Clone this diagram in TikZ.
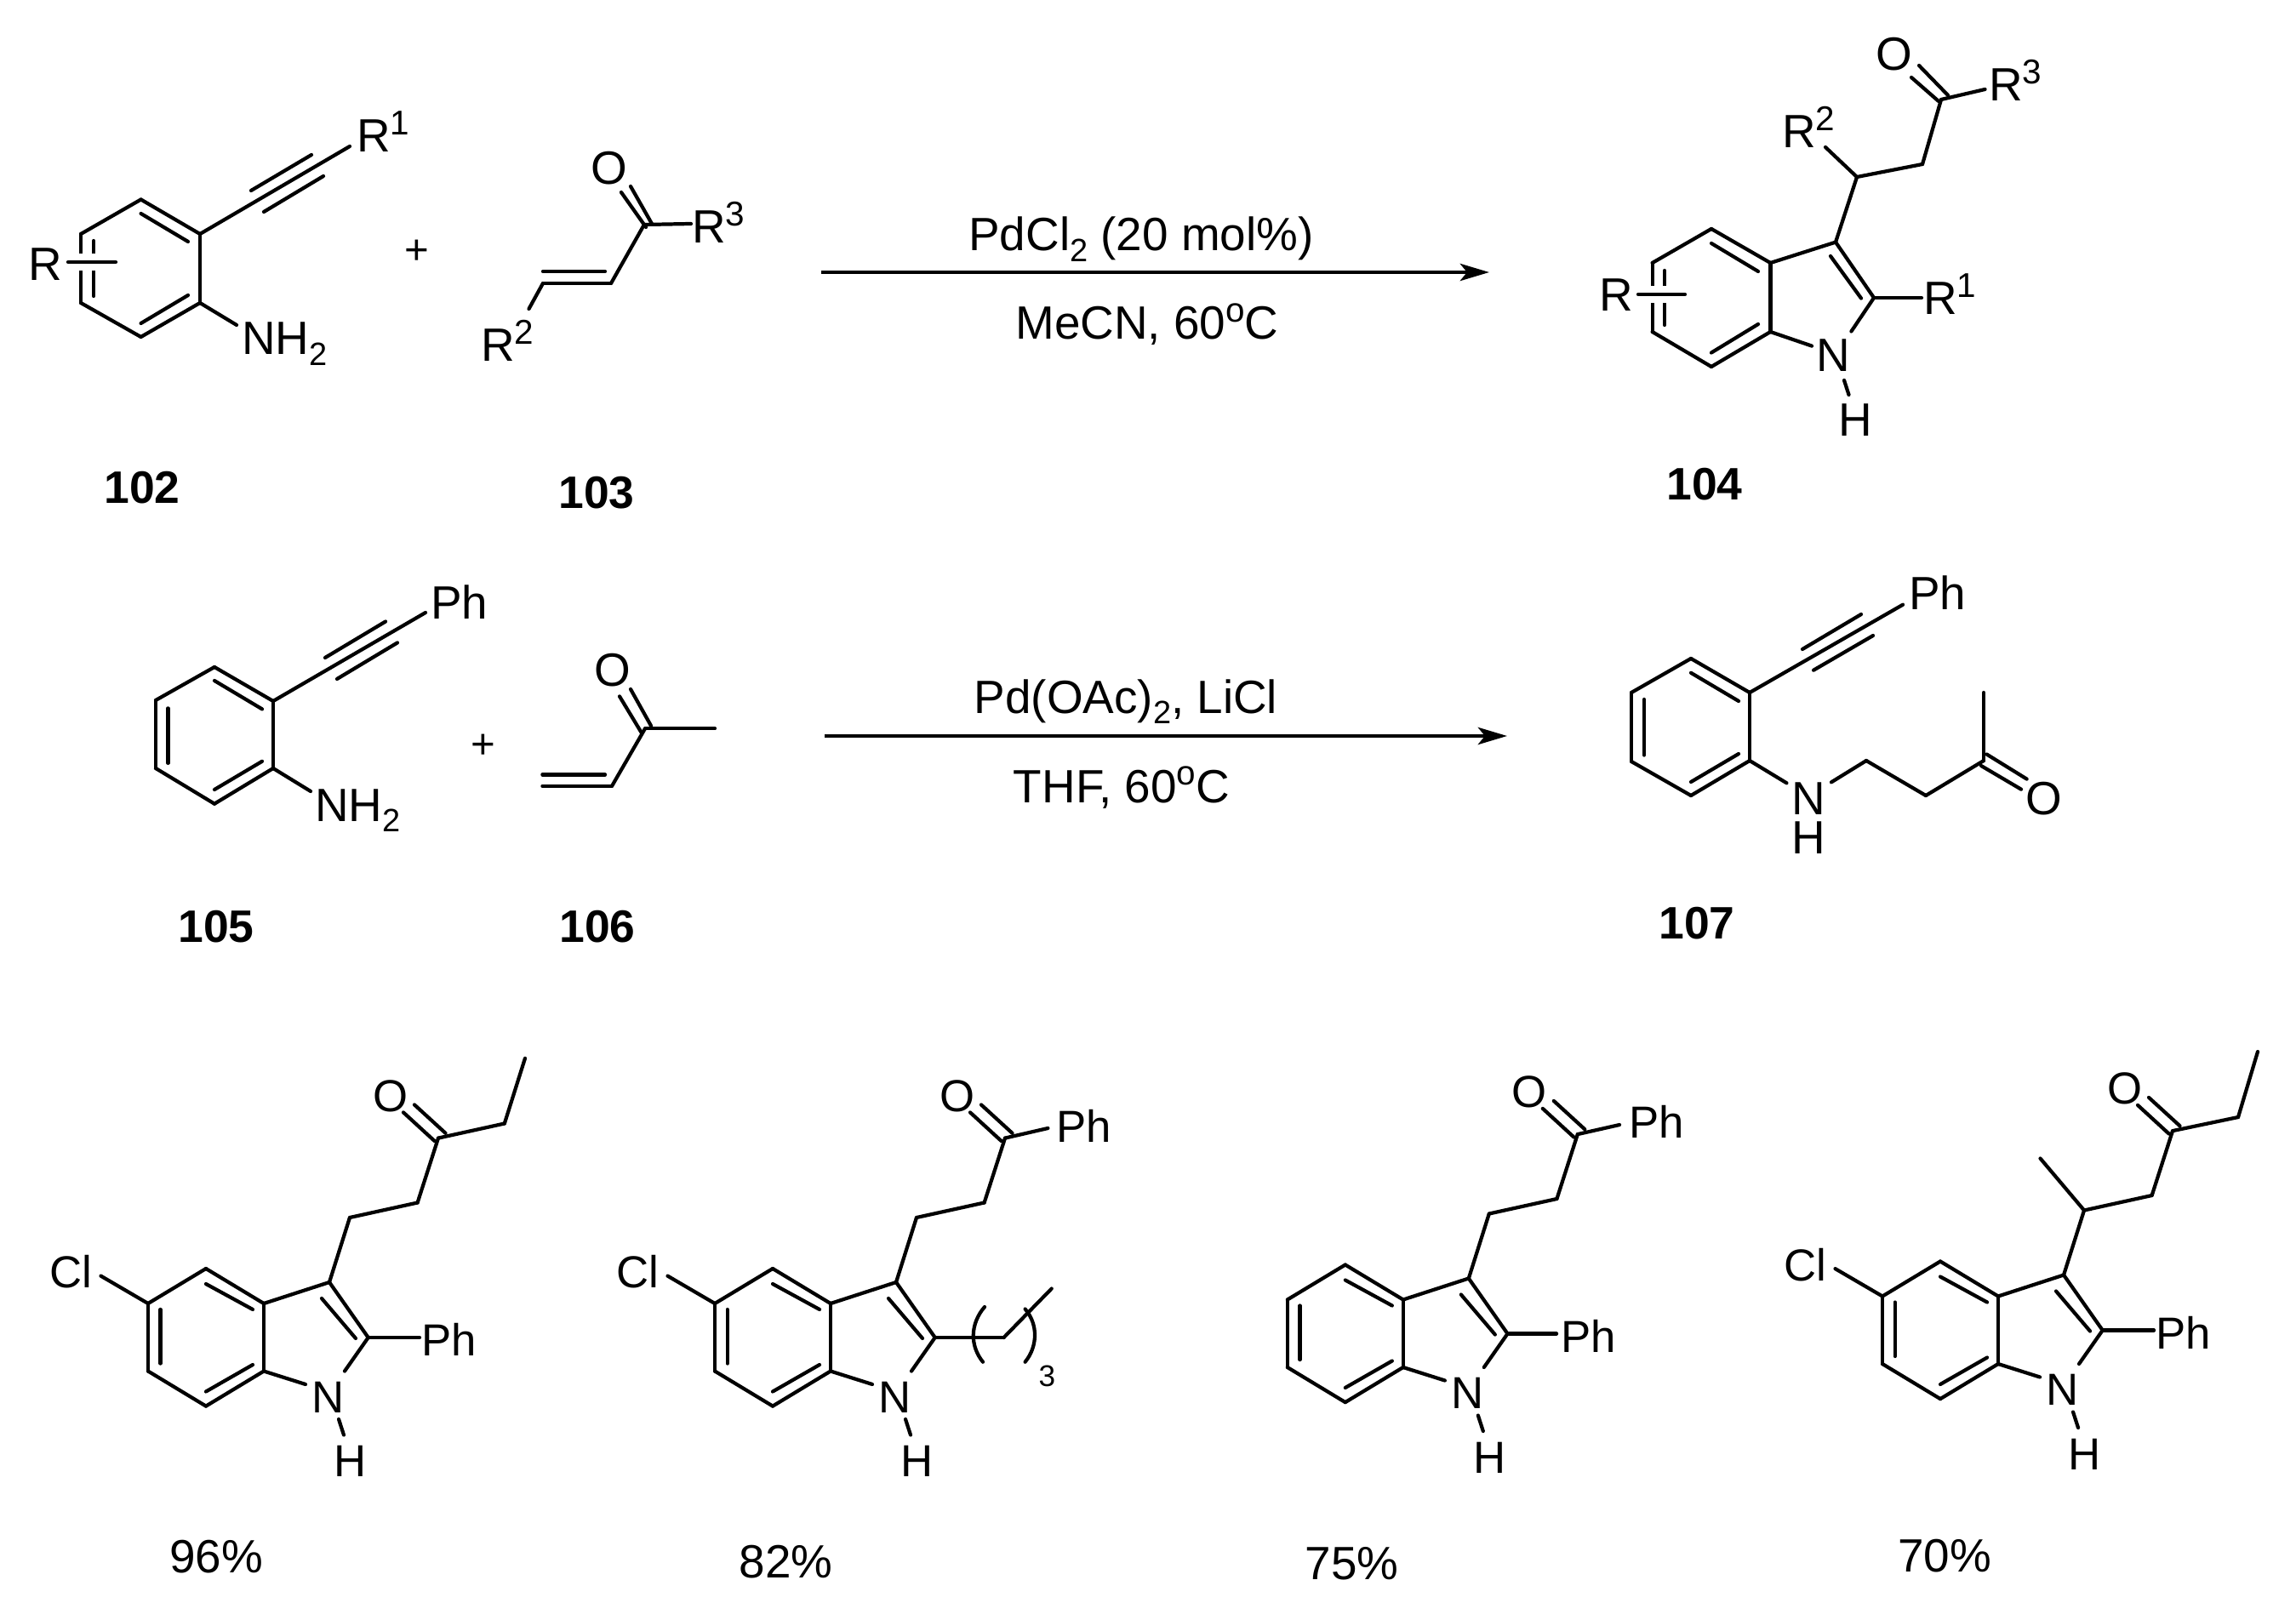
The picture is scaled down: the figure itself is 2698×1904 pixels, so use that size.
\documentclass[tikz,border=0pt]{standalone}
\usepackage{fontspec}
\setmainfont{Liberation Sans}
\usetikzlibrary{positioning}
\usetikzlibrary{arrows.meta}

\newcommand{\upidx}[1]{\raisebox{5.7pt}{\fontsize{11.5}{12}\selectfont #1}}
\newcommand{\downidx}[1]{\raisebox{-3.6pt}{\fontsize{10.8}{12}\selectfont #1}}

\begin{document}
\begin{tikzpicture}[
  x=0.01cm,y=-0.01cm,
  line width=1.2pt,line cap=round,
  font=\fontsize{15.6}{18}\selectfont,
  atom/.style={inner sep=0pt,anchor=base},
  lbl/.style={inner sep=0pt,anchor=base west},
  small/.style={font=\fontsize{15}{18}\selectfont},
  cmpd/.style={inner sep=0pt,anchor=base,font=\fontsize{15.2}{18}\selectfont\bfseries},
  plus/.style={inner sep=0pt,font=\fontsize{14}{16}\selectfont},
  halo/.style={draw=white,line width=5.5pt,line cap=butt},
  rxnarrow/.style={line width=1.4pt,line cap=butt,-{Stealth[length=9.7pt,width=5.7pt,inset=2.3pt]}}
]
\useasboundingbox (0,0) rectangle (2698,1904);

% 102
\path (165.6,234.5) coordinate (p1) (235,275) coordinate (p2) (235,356) coordinate (p3)
  (165.6,396) coordinate (p4) (95,356) coordinate (p5) (95,275) coordinate (p6)
  (165.6,251) coordinate (p7) (221,284) coordinate (p8) (221,347) coordinate (p9)
  (165.6,380) coordinate (p10) (110,283) coordinate (p11) (110,348) coordinate (p12)
  (80,308) coordinate (p13) (136,308) coordinate (p14) (411,172) coordinate (p15)
  (295,224) coordinate (p16) (366,182) coordinate (p17) (310,249) coordinate (p18)
  (380,207) coordinate (p19) (278,382) coordinate (p20);
\path (p1) edge (p2) (p2) edge (p3) (p3) edge (p4) (p4) edge (p5) (p5) edge (p6) (p6) edge (p1)
  (p7) edge (p8) (p9) edge (p10) (p11) edge (p12)
  (p2) edge (p15) (p16) edge (p17) (p18) edge (p19) (p3) edge (p20);
\path (p13) edge[halo] (p14);
\path (p13) edge (p14);
\node[lbl] (pR) at (31,330) {R};
\node[lbl] (pR1) at (417,179) {R\upidx{1}};
\node[lbl] (pN) at (282,417) {NH\downidx{2}};
\node[plus] (plusa) at (490,296) {+};
\node[cmpd] (c102) at (167,592) {102};

% 103
\path (757,264) coordinate (q1) (718,333) coordinate (q2) (638,333) coordinate (q3)
  (638,319) coordinate (q4) (711,319) coordinate (q5) (621.5,363) coordinate (q6)
  (812,263) coordinate (q7) (730,226) coordinate (q8) (759,267) coordinate (q9)
  (741,219) coordinate (q10) (766,263) coordinate (q11);
\path (q1) edge (q2) (q2) edge (q3) (q4) edge (q5) (q3) edge (q6) (q1) edge (q7)
  (q8) edge (q9) (q10) edge (q11);
\node[atom] (qO) at (715.5,216.6) {O};
\node[lbl] (qR2) at (563,425) {R\upidx{2}};
\node[lbl] (qR3) at (811,286) {R\upidx{3}};
\node[cmpd] (c103) at (701,597.4) {103};

% first arrow
\coordinate (s1) at (965,320);
\coordinate (e1) at (1750,320);
\draw[rxnarrow] (s1) -- (e1);
\node[atom] (t1) at (1341,294.5) {PdCl\downidx{2} (20 mol\%)};
\node[atom] (t2) at (1348,399) {MeCN, 60\upidx{o}C};

% 104
\path (2011,269) coordinate (r1) (2080.4,309) coordinate (r2) (2080.4,390) coordinate (r3)
  (2011,431) coordinate (r4) (1941.6,390) coordinate (r5) (1941.6,309) coordinate (r6)
  (2011,286) coordinate (r7) (2066,319) coordinate (r8) (2066,381) coordinate (r9)
  (2011,414.5) coordinate (r10) (1956,318) coordinate (r11) (1956,382) coordinate (r12)
  (1925,346) coordinate (r13) (1980,346) coordinate (r14) (2157,284.6) coordinate (r15)
  (2202,350) coordinate (r16) (2175.4,389.5) coordinate (r17) (2129,406.6) coordinate (r18)
  (2167,447) coordinate (r19) (2172.5,464) coordinate (r20) (2151,301) coordinate (r21)
  (2187,350.6) coordinate (r22) (2258,350) coordinate (r23) (2182,208) coordinate (r24)
  (2145,173) coordinate (r25) (2259,193) coordinate (r26) (2281,117) coordinate (r27)
  (2246,91) coordinate (r28) (2278,119) coordinate (r29) (2255,77) coordinate (r30)
  (2289,112) coordinate (r31) (2332.5,105) coordinate (r32);
\path (r1) edge (r2) (r2) edge (r3) (r3) edge (r4) (r4) edge (r5) (r5) edge (r6) (r6) edge (r1)
  (r7) edge (r8) (r9) edge (r10) (r11) edge (r12)
  (r2) edge (r15) (r15) edge (r16) (r16) edge (r17) (r3) edge (r18) (r19) edge (r20)
  (r21) edge (r22) (r16) edge (r23) (r15) edge (r24) (r24) edge (r25) (r24) edge (r26)
  (r26) edge (r27) (r28) edge (r29) (r30) edge (r31) (r27) edge (r32);
\path (r13) edge[halo] (r14);
\path (r13) edge (r14);
\node[lbl] (rR) at (1877,366) {R};
\node[lbl] (rR1) at (2258,370) {R\upidx{1}};
\node[lbl] (rR2) at (2092,174) {R\upidx{2}};
\node[lbl] (rR3) at (2335,119) {R\upidx{3}};
\node[atom] (rO) at (2226,82.7) {O};
\node[atom] (rN) at (2154,437) {N};
\node[atom] (rH) at (2180,513) {H};
\node[cmpd] (c104) at (2003,588) {104};

% 105
\path (252,784) coordinate (u1) (321,824) coordinate (u2) (321,903) coordinate (u3)
  (252,944.7) coordinate (u4) (183,903) coordinate (u5) (183,823) coordinate (u6)
  (252,800) coordinate (u7) (308,833.4) coordinate (u8) (308,894.8) coordinate (u9)
  (252,928) coordinate (u10) (197.4,832.4) coordinate (u11) (197.4,896.9) coordinate (u12)
  (500,720) coordinate (u13) (382,773) coordinate (u14) (453,730.5) coordinate (u15)
  (396,798) coordinate (u16) (467,755.4) coordinate (u17) (365,930) coordinate (u18);
\path (u1) edge (u2) (u2) edge (u3) (u3) edge (u4) (u4) edge (u5) (u5) edge (u6) (u6) edge (u1)
  (u7) edge (u8) (u9) edge (u10) (u11) edge (u12)
  (u2) edge (u13) (u14) edge (u15) (u16) edge (u17) (u3) edge (u18);
\node[lbl] (uPh) at (504,727.4) {Ph};
\node[lbl] (uN) at (368,965) {NH\downidx{2}};
\node[plus] (plusb) at (568,877) {+};
\node[cmpd] (c105) at (254,1107) {105};

% 106
\path (758,856.3) coordinate (v1) (719,923.9) coordinate (v2) (637.4,923.9) coordinate (v3)
  (637.4,910.4) coordinate (v4) (711,910.4) coordinate (v5) (728,818.4) coordinate (v6)
  (754,861.5) coordinate (v7) (741,810) coordinate (v8) (765,853) coordinate (v9)
  (840,856.3) coordinate (v10);
\path (v1) edge (v2) (v2) edge (v3) (v4) edge (v5) (v6) edge (v7) (v8) edge (v9) (v1) edge (v10);
\node[atom] (vO) at (719.5,806.4) {O};
\node[cmpd] (c106) at (702,1107) {106};

% second arrow
\coordinate (s2) at (969,865);
\coordinate (e2) at (1771,865);
\draw[rxnarrow] (s2) -- (e2);
\node[atom] (t3) at (1323,838) {Pd(OAc)\downidx{2}, LiCl};
\node[atom] (t4) at (1318,943) {THF, 60\upidx{o}C};

% 107
\path (1987,774) coordinate (w1) (2056,814) coordinate (w2) (2056,894) coordinate (w3)
  (1987,935) coordinate (w4) (1917,895) coordinate (w5) (1917,814) coordinate (w6)
  (1987,790.8) coordinate (w7) (2043,824) coordinate (w8) (2043,886) coordinate (w9)
  (1987,919) coordinate (w10) (1932,822) coordinate (w11) (1932,887.5) coordinate (w12)
  (2236,710.7) coordinate (w13) (2118,763) coordinate (w14) (2187,722) coordinate (w15)
  (2131,787.7) coordinate (w16) (2201,747) coordinate (w17) (2099.4,920.3) coordinate (w18)
  (2152,919.3) coordinate (w19) (2193,894) coordinate (w20) (2263,935) coordinate (w21)
  (2331,894) coordinate (w22) (2331,814) coordinate (w23) (2334.5,886.5) coordinate (w24)
  (2381.6,915.6) coordinate (w25) (2328,900) coordinate (w26) (2375,927.7) coordinate (w27);
\path (w1) edge (w2) (w2) edge (w3) (w3) edge (w4) (w4) edge (w5) (w5) edge (w6) (w6) edge (w1)
  (w7) edge (w8) (w9) edge (w10) (w11) edge (w12)
  (w2) edge (w13) (w14) edge (w15) (w16) edge (w17) (w3) edge (w18)
  (w19) edge (w20) (w20) edge (w21) (w21) edge (w22) (w22) edge (w23)
  (w24) edge (w25) (w26) edge (w27);
\node[lbl] (wPh) at (2241,716) {Ph};
\node[atom] (wN) at (2125.5,957) {N};
\node[atom] (wH) at (2125.5,1003) {H};
\node[atom] (wO) at (2402,957) {O};
\node[cmpd] (c107) at (1994,1103.5) {107};

% the four indoles of the bottom row
\foreach \nm/\dx/\dy in {a/0/0,b/666/0,c/1338.8/-4.5,d/2038/-8.5}{
\begin{scope}[shift={(\dx,\dy)}]
\path (242,1491) coordinate (\nm1) (310,1532) coordinate (\nm2) (310,1611.5) coordinate (\nm3)
  (242,1652.6) coordinate (\nm4) (174,1611.5) coordinate (\nm5) (174,1532) coordinate (\nm6)
  (242,1509) coordinate (\nm7) (297,1539) coordinate (\nm8) (297,1604) coordinate (\nm9)
  (242,1635.5) coordinate (\nm10) (188.6,1539) coordinate (\nm11) (188.6,1602.5) coordinate (\nm12)
  (387,1507) coordinate (\nm13) (432.7,1572) coordinate (\nm14) (405,1611.5) coordinate (\nm15)
  (359,1627) coordinate (\nm16) (398,1668) coordinate (\nm17) (404,1686.5) coordinate (\nm18)
  (378,1526) coordinate (\nm19) (418,1573) coordinate (\nm20) (411,1431) coordinate (\nm21)
  (490.6,1413.5) coordinate (\nm22) (515,1337.6) coordinate (\nm23) (474,1307.4) coordinate (\nm24)
  (510.6,1341) coordinate (\nm25) (487,1298.4) coordinate (\nm26) (523.5,1331.8) coordinate (\nm27)
  (118.5,1499.6) coordinate (\nm28);
\path (\nm1) edge (\nm2) (\nm2) edge (\nm3) (\nm3) edge (\nm4) (\nm4) edge (\nm5) (\nm5) edge (\nm6) (\nm6) edge (\nm1)
  (\nm7) edge (\nm8) (\nm9) edge (\nm10) (\nm11) edge (\nm12)
  (\nm2) edge (\nm13) (\nm13) edge (\nm14) (\nm14) edge (\nm15) (\nm3) edge (\nm16) (\nm17) edge (\nm18)
  (\nm19) edge (\nm20) (\nm13) edge (\nm21) (\nm21) edge (\nm22) (\nm22) edge (\nm23)
  (\nm24) edge (\nm25) (\nm26) edge (\nm27);
\node[atom,small] (\nm N) at (385.5,1660) {N};
\node[atom,small] (\nm H) at (412,1735.6) {H};
\node[atom,small] (\nm O) at (458.6,1306) {O};
\end{scope}
}

% what differs between them
\coordinate (a29) at (592.8,1320.5);
\coordinate (a30) at (617,1243.8);
\coordinate (a31) at (493,1572);
\path (a23) edge (a29) (a29) edge (a30) (a14) edge (a31) (a6) edge (a28);
\node[lbl,small] (aCl) at (56,1513.6) {Cl};
\node[lbl,small] (aPh) at (493,1593.5) {Ph};
\node[atom] (ayield) at (254,1848) {96\%};

\path (1231.4,1326) coordinate (b29) (1179.5,1572) coordinate (b30) (1235.7,1514.5) coordinate (b31)
  (1157,1536) coordinate (b32) (1155,1600.7) coordinate (b33)
  (1204.6,1538.5) coordinate (b34) (1204.6,1600.7) coordinate (b35);
\path (b23) edge (b29) (b14) edge (b30) (b30) edge (b31) (b6) edge (b28);
\draw (b32) .. controls (1139.7,1556) and (1139.7,1582) .. (b33);
\draw (b34) .. controls (1219.8,1556) and (1219.8,1582) .. (b35);
\node[lbl,small] (bCl) at (722,1513.6) {Cl};
\node[lbl,small] (bPh) at (1239,1342) {Ph};
\node[atom,font=\fontsize{10}{12}\selectfont] (bsub) at (1230.5,1629.6) {3};
\node[atom] (byield) at (923.6,1854) {82\%};

\coordinate (c29) at (1903,1322);
\coordinate (c31) at (1829,1567.5);
\path (c23) edge (c29) (c14) edge (c31);
\node[lbl,small] (cPh) at (1912,1337) {Ph};
\node[lbl,small] (cPhb) at (1832,1589) {Ph};
\node[atom] (cyield) at (1588.5,1856) {75\%};

\path (2397.5,1361.5) coordinate (d29) (2630,1313) coordinate (d30) (2653,1236) coordinate (d31)
  (2531,1563.5) coordinate (d32);
\path (d21) edge (d29) (d23) edge (d30) (d30) edge (d31) (d14) edge (d32) (d6) edge (d28);
\node[lbl,small] (dCl) at (2094,1505) {Cl};
\node[lbl,small] (dPh) at (2531,1585) {Ph};
\node[atom] (dyield) at (2285,1847) {70\%};

\end{tikzpicture}
\end{document}
